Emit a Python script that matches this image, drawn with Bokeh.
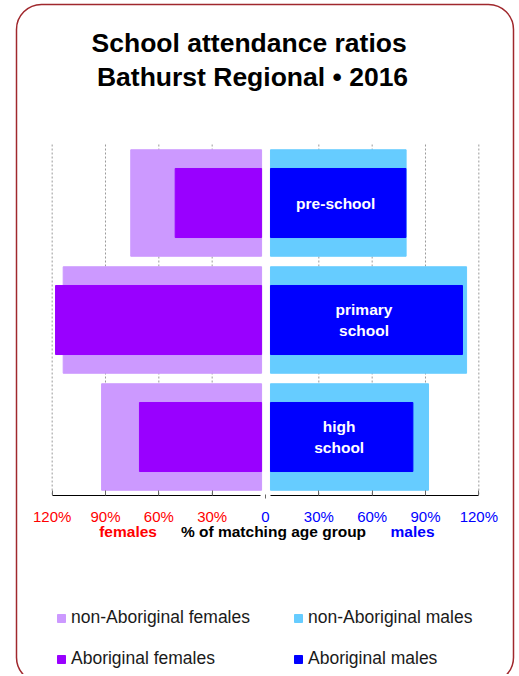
from bokeh.plotting import figure
from bokeh.models import (Range1d, FixedTicker, Legend, LegendItem, Label,
                          LabelSet, ColumnDataSource, LinearAxis, BoxAnnotation)
from bokeh.core.properties import value
from bokeh.embed import file_html
from bokeh.resources import INLINE

# ---- data ----
categories = ["pre-school", "primary\nschool", "high\nschool"]
nonab_females = [75.8, 113.8, 92.2]
ab_females = [50.8, 118.1, 70.9]
nonab_males = [79.1, 113.1, 91.7]
ab_males = [79.0, 110.8, 82.9]
tick_values = [-120, -90, -60, -30, 0, 30, 60, 90, 120]
tick_labels = ["120%", "90%", "60%", "30%", "0", "30%", "60%", "90%", "120%"]
tick_colors = ["#FF0000"] * 4 + ["#0000FF"] * 5
grid_values = [-120, -90, -60, -30, 30, 60, 90, 120]

ypos = [0.5, 1.5, 2.5]      # category slots, top to bottom
GAP = 2.8                   # half gap between the two halves (in %)

FONT = "Liberation Sans"
C_NF, C_AF, C_NM, C_AM = "#CC99FF", "#9900FF", "#66CCFF", "#0000FF"
RED, BLUE = "#FF0000", "#0000FF"

p = figure(width=517, height=674, min_border=0,
           x_range=Range1d(-149.06, 141.75), y_range=Range1d(4.5299, -1.2308),
           output_backend="svg", toolbar_location=None,
           x_axis_location=None, y_axis_location=None,
           outline_line_color=None)
p.xgrid.visible = False
p.ygrid.visible = False

# ---- dashed vertical grid lines over the bar area ----
p.segment(x0=grid_values, x1=grid_values, y0=[0] * len(grid_values),
          y1=[3] * len(grid_values), line_color="#9a9a9a", line_width=1,
          line_dash="2 2")

src = ColumnDataSource(dict(
    y=ypos,
    nf_left=[-v for v in nonab_females], af_left=[-v for v in ab_females],
    nm_right=nonab_males, am_right=ab_males,
    f_right=[-GAP + 0.6] * 3, m_left=[GAP] * 3,
    lab_x=[v / 2 for v in ab_males], lab=categories,
))

r_nf = p.hbar(y="y", left="nf_left", right="f_right", height=0.91, source=src,
              fill_color=C_NF, line_color=C_NF)
r_af = p.hbar(y="y", left="af_left", right="f_right", height=0.59, source=src,
              fill_color=C_AF, line_color=C_AF)
r_nm = p.hbar(y="y", left="m_left", right="nm_right", height=0.91, source=src,
              fill_color=C_NM, line_color=C_NM)
r_am = p.hbar(y="y", left="m_left", right="am_right", height=0.59, source=src,
              fill_color=C_AM, line_color=C_AM)

p.text(x="lab_x", y="y", text="lab", source=src, text_color="white",
       text_font=value(FONT), text_font_style="bold", text_font_size="15.5px",
       text_align="center", text_baseline="middle", text_line_height=1.2)

# ---- x axes (two halves with a gap, plus the zero tick) ----
def make_axis(ticks, bounds, line=True):
    a = LinearAxis(fixed_location=3, bounds=bounds,
                   ticker=FixedTicker(ticks=ticks))
    a.major_label_text_color = None
    a.major_tick_in = 5
    a.major_tick_out = 0
    a.minor_tick_line_color = None
    a.major_tick_line_color = "#666666"
    a.axis_line_color = "black" if line else None
    p.add_layout(a, "below")
    return a

make_axis([t for t in tick_values if t < 0], (-120, -GAP))
make_axis([t for t in tick_values if t > 0], (GAP, 120))
z = make_axis([0], (-1, 1), line=False)
z.major_tick_in = 1
z.major_tick_out = 3

tick_src = ColumnDataSource(dict(x=tick_values, y=[3.225] * len(tick_values),
                                 text=tick_labels, color=tick_colors))
p.add_layout(LabelSet(x="x", y="y", text="text", text_color="color", source=tick_src,
                      text_align="center", text_baseline="alphabetic",
                      text_font=value(FONT), text_font_size="15px"))

for x, txt, col in [(-77.3, "females", RED),
                    (4.5, "% of matching age group", "black"),
                    (82.7, "males", BLUE)]:
    p.add_layout(Label(x=x, y=3.31, text=txt, text_color=col, text_align="center",
                       text_baseline="alphabetic", text_font=FONT,
                       text_font_style="bold", text_font_size="15.5px"))

# ---- title ----
for x, y, txt in [(-9.2, -0.87, "School attendance ratios"),
                  (-7.3, -0.575, "Bathurst Regional \u2022 2016")]:
    p.add_layout(Label(x=x, y=y, text=txt, text_color="black", text_align="center",
                       text_baseline="alphabetic", text_font=FONT,
                       text_font_style="bold", text_font_size="26.5px"))

# ---- legend ----
legend = Legend(items=[
    LegendItem(label="non-Aboriginal females", renderers=[r_nf]),
    LegendItem(label="non-Aboriginal males", renderers=[r_nm]),
    LegendItem(label="Aboriginal females", renderers=[r_af]),
    LegendItem(label="Aboriginal males", renderers=[r_am]),
], location=(56, 5), orientation="horizontal", ncols=2,
    glyph_width=10, glyph_height=10, label_standoff=5, label_width=202,
    label_height=20, spacing=20, padding=0, margin=0,
    label_text_font=FONT, label_text_font_size="17.5px",
    label_text_color="#1a1a1a",
    background_fill_alpha=0, border_line_color=None)
p.add_layout(legend)

# ---- rounded frame round the whole chart ----
p.add_layout(BoxAnnotation(left=-140.06, right=139.5, top=-1.1966, bottom=4.598,
                           fill_alpha=0, line_color="#A0282D", line_alpha=1,
                           line_width=1.5, border_radius=25))

open("out.html", "w").write(file_html(p, INLINE))
